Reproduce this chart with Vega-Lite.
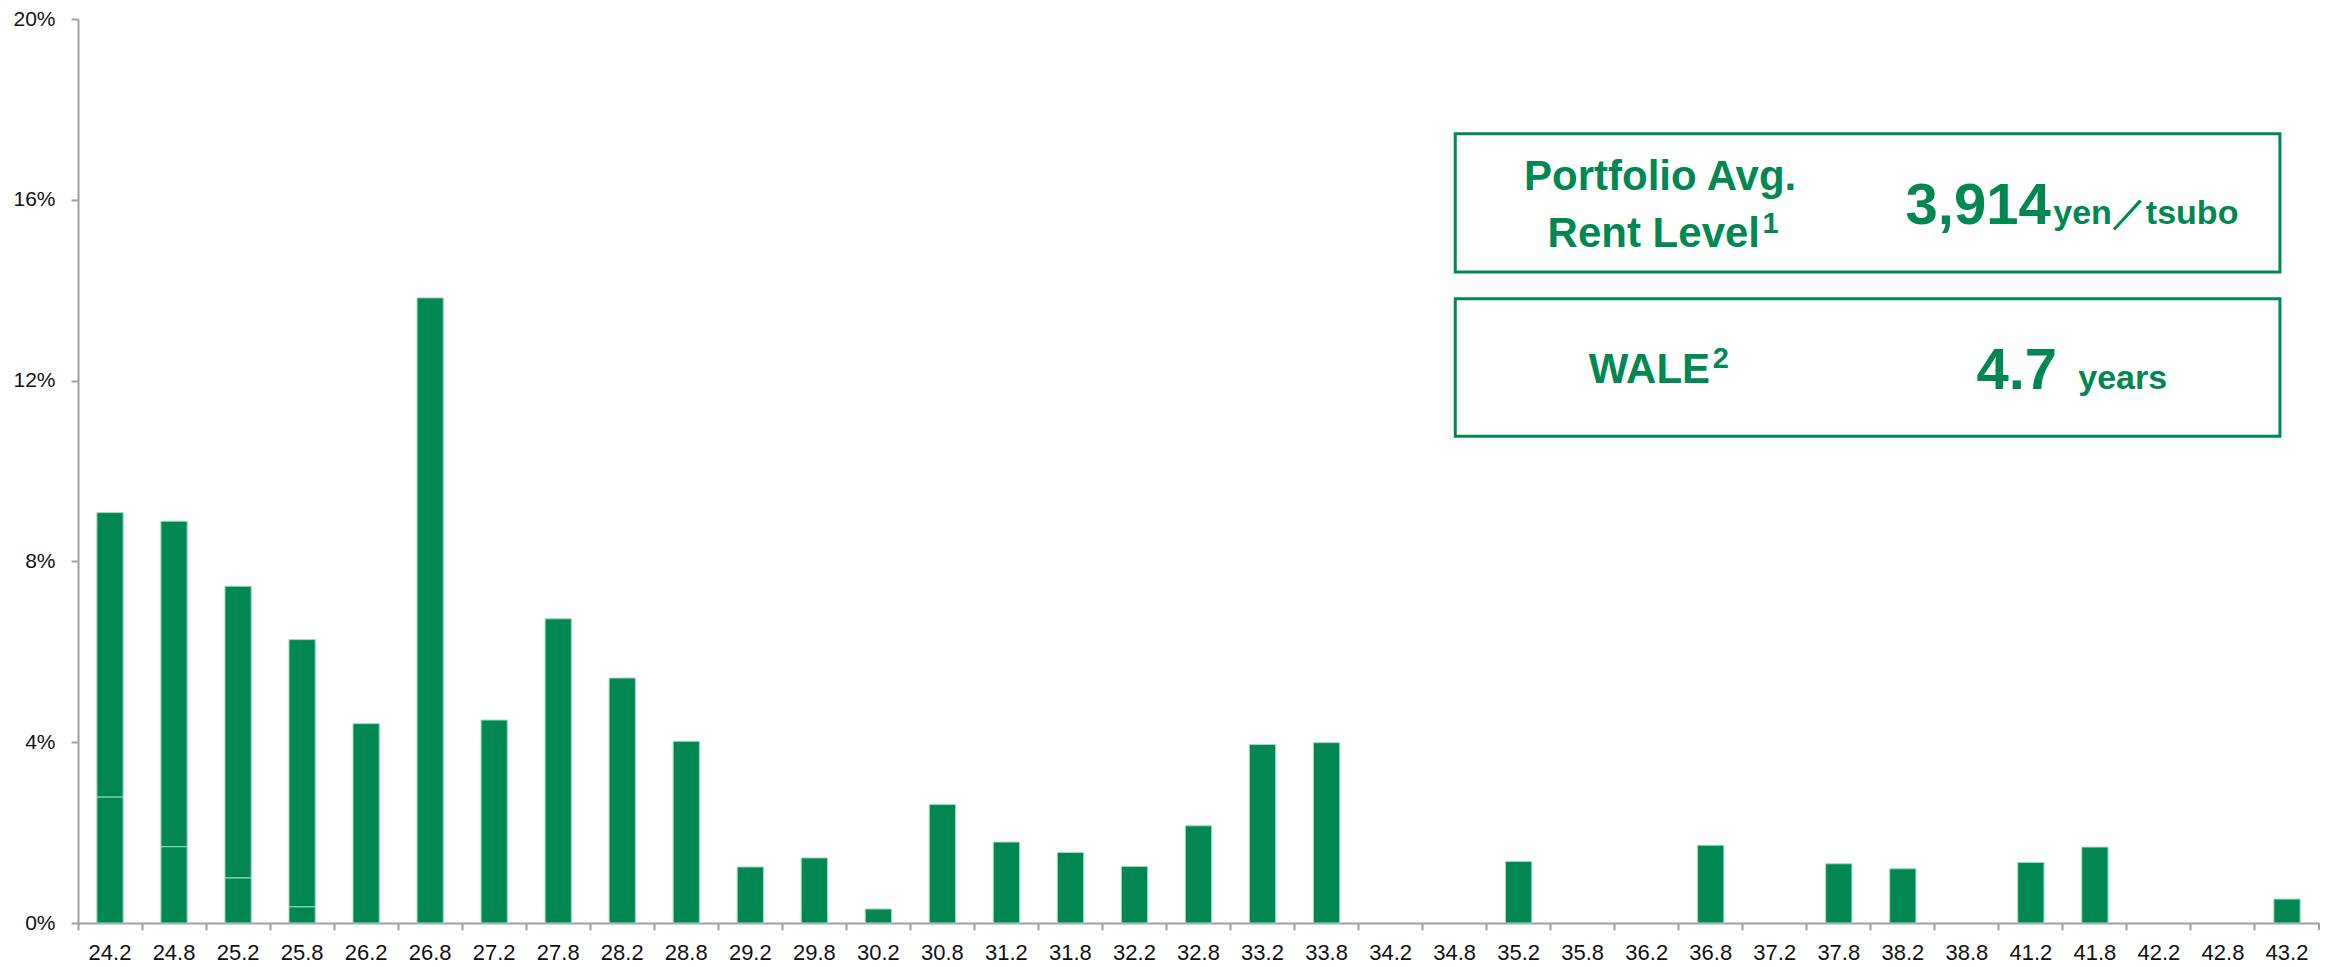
{
  "$schema": "https://vega.github.io/schema/vega-lite/v6.json",
  "autosize": {"type": "none"},
  "width": 2241,
  "height": 904,
  "padding": {"left": 78, "top": 19, "right": 17, "bottom": 44},
  "background": "white",
  "config": {"view": {"stroke": null}, "font": "Liberation Sans"},
  "datasets": {
    "bars": [
      {"rent": "24.2", "part": "a", "share": 0.0279},
      {"rent": "24.2", "part": "b", "share": 0.0629},
      {"rent": "24.8", "part": "a", "share": 0.0169},
      {"rent": "24.8", "part": "b", "share": 0.0720},
      {"rent": "25.2", "part": "a", "share": 0.0100},
      {"rent": "25.2", "part": "b", "share": 0.0645},
      {"rent": "25.8", "part": "a", "share": 0.0036},
      {"rent": "25.8", "part": "b", "share": 0.0591},
      {"rent": "26.2", "part": "a", "share": 0.0441},
      {"rent": "26.8", "part": "a", "share": 0.1383},
      {"rent": "27.2", "part": "a", "share": 0.0449},
      {"rent": "27.8", "part": "a", "share": 0.0673},
      {"rent": "28.2", "part": "a", "share": 0.0542},
      {"rent": "28.8", "part": "a", "share": 0.0402},
      {"rent": "29.2", "part": "a", "share": 0.0124},
      {"rent": "29.8", "part": "a", "share": 0.0144},
      {"rent": "30.2", "part": "a", "share": 0.0031},
      {"rent": "30.8", "part": "a", "share": 0.0262},
      {"rent": "31.2", "part": "a", "share": 0.0179},
      {"rent": "31.8", "part": "a", "share": 0.0156},
      {"rent": "32.2", "part": "a", "share": 0.0125},
      {"rent": "32.8", "part": "a", "share": 0.0215},
      {"rent": "33.2", "part": "a", "share": 0.0395},
      {"rent": "33.8", "part": "a", "share": 0.0399},
      {"rent": "35.2", "part": "a", "share": 0.0136},
      {"rent": "36.8", "part": "a", "share": 0.0172},
      {"rent": "37.8", "part": "a", "share": 0.0131},
      {"rent": "38.2", "part": "a", "share": 0.0120},
      {"rent": "41.2", "part": "a", "share": 0.0134},
      {"rent": "41.8", "part": "a", "share": 0.0168},
      {"rent": "43.2", "part": "a", "share": 0.0053}
    ],
    "boxes": [
      {"x0": 21.51, "x1": 34.39, "top": 0.1746, "bottom": 0.1440},
      {"x0": 21.51, "x1": 34.39, "top": 0.1381, "bottom": 0.1077}
    ],
    "labels": [
      {"text": "Portfolio Avg.", "px": 24.71, "py": 0.1622, "kind": "headc"},
      {"text": "Rent Level", "px": 26.27, "py": 0.1496, "kind": "headr"},
      {"text": "1", "px": 26.31, "py": 0.1527, "kind": "sup"},
      {"text": "WALE", "px": 25.49, "py": 0.1195, "kind": "headr"},
      {"text": "2", "px": 25.53, "py": 0.1228, "kind": "sup"},
      {"text": "3,914", "px": 30.81, "py": 0.1546, "kind": "big"},
      {"text": "yen／tsubo", "px": 30.85, "py": 0.1546, "kind": "unit"},
      {"text": "4.7", "px": 30.91, "py": 0.1181, "kind": "big"},
      {"text": "years", "px": 31.24, "py": 0.1181, "kind": "unit"}
    ],
    "endtick": [{"px": 35, "y0": 0, "y1": -0.00155}]
  },
  "layer": [
    {
      "data": {"name": "bars"},
      "mark": {"type": "bar", "width": {"band": 0.41}, "color": "#008752", "stroke": "#a3d9be", "strokeWidth": 1},
      "encoding": {
        "x": {
          "field": "rent", "type": "nominal", "sort": null,
          "scale": {"domain": ["24.2","24.8","25.2","25.8","26.2","26.8","27.2","27.8","28.2","28.8","29.2","29.8","30.2","30.8","31.2","31.8","32.2","32.8","33.2","33.8","34.2","34.8","35.2","35.8","36.2","36.8","37.2","37.8","38.2","38.8","41.2","41.8","42.2","42.8","43.2"], "paddingInner": 0, "paddingOuter": 0},
          "axis": {"title": null, "labelAngle": 0, "bandPosition": 0, "domainColor": "#a0a0a0", "domainWidth": 2, "tickColor": "#a0a0a0", "tickWidth": 2, "tickSize": 7, "labelFontSize": 22, "labelColor": "#111111", "labelPadding": 12, "labelFont": "Liberation Sans"}
        },
        "y": {
          "field": "share", "type": "quantitative", "stack": "zero",
          "scale": {"domain": [0, 0.2], "nice": false},
          "axis": {"title": null, "values": [0, 0.04, 0.08, 0.12, 0.16, 0.2], "format": ".0%", "grid": false, "domainColor": "#a0a0a0", "domainWidth": 2, "tickColor": "#a0a0a0", "tickWidth": 2, "tickSize": 7, "labelFontSize": 21, "labelColor": "#111111", "labelPadding": 16, "labelFont": "Liberation Sans"}
        },
        "order": {"field": "part", "sort": "ascending"}
      }
    },
    {
      "data": {"name": "boxes"},
      "mark": {"type": "rect", "fill": null, "stroke": "#008752", "strokeWidth": 3},
      "encoding": {
        "x": {"field": "x0", "type": "quantitative", "scale": {"domain": [0, 35], "nice": false, "zero": false}, "axis": null},
        "x2": {"field": "x1"},
        "y": {"field": "top", "type": "quantitative", "axis": null},
        "y2": {"field": "bottom"}
      }
    },
    {
      "data": {"name": "endtick"},
      "mark": {"type": "rule", "color": "#a0a0a0", "strokeWidth": 2},
      "encoding": {
        "x": {"field": "px", "type": "quantitative", "scale": {"domain": [0, 35], "nice": false, "zero": false}, "axis": null},
        "y": {"field": "y0", "type": "quantitative", "axis": null},
        "y2": {"field": "y1"}
      }
    },
    {
      "data": {"name": "labels"},
      "transform": [{"filter": "datum.kind === 'headc'"}],
      "mark": {"type": "text", "fontSize": 42, "fontWeight": "bold", "color": "#008752", "baseline": "alphabetic", "align": "center", "font": "Liberation Sans"},
      "encoding": {
        "x": {"field": "px", "type": "quantitative", "scale": {"domain": [0, 35], "nice": false, "zero": false}, "axis": null},
        "y": {"field": "py", "type": "quantitative", "axis": null},
        "text": {"field": "text"}
      }
    },
    {
      "data": {"name": "labels"},
      "transform": [{"filter": "datum.kind === 'headr'"}],
      "mark": {"type": "text", "fontSize": 42, "fontWeight": "bold", "color": "#008752", "baseline": "alphabetic", "align": "right", "font": "Liberation Sans"},
      "encoding": {
        "x": {"field": "px", "type": "quantitative", "scale": {"domain": [0, 35], "nice": false, "zero": false}, "axis": null},
        "y": {"field": "py", "type": "quantitative", "axis": null},
        "text": {"field": "text"}
      }
    },
    {
      "data": {"name": "labels"},
      "transform": [{"filter": "datum.kind === 'sup'"}],
      "mark": {"type": "text", "fontSize": 29, "fontWeight": "bold", "color": "#008752", "baseline": "alphabetic", "align": "left", "font": "Liberation Sans"},
      "encoding": {
        "x": {"field": "px", "type": "quantitative", "scale": {"domain": [0, 35], "nice": false, "zero": false}, "axis": null},
        "y": {"field": "py", "type": "quantitative", "axis": null},
        "text": {"field": "text"}
      }
    },
    {
      "data": {"name": "labels"},
      "transform": [{"filter": "datum.kind === 'big'"}],
      "mark": {"type": "text", "fontSize": 58, "fontWeight": "bold", "color": "#008752", "baseline": "alphabetic", "align": "right", "font": "Liberation Sans"},
      "encoding": {
        "x": {"field": "px", "type": "quantitative", "scale": {"domain": [0, 35], "nice": false, "zero": false}, "axis": null},
        "y": {"field": "py", "type": "quantitative", "axis": null},
        "text": {"field": "text"}
      }
    },
    {
      "data": {"name": "labels"},
      "transform": [{"filter": "datum.kind === 'unit'"}],
      "mark": {"type": "text", "fontSize": 34, "fontWeight": "bold", "color": "#008752", "baseline": "alphabetic", "align": "left", "font": "Liberation Sans"},
      "encoding": {
        "x": {"field": "px", "type": "quantitative", "scale": {"domain": [0, 35], "nice": false, "zero": false}, "axis": null},
        "y": {"field": "py", "type": "quantitative", "axis": null},
        "text": {"field": "text"}
      }
    }
  ],
  "resolve": {"scale": {"x": "independent"}, "axis": {"x": "independent", "y": "independent"}}
}
